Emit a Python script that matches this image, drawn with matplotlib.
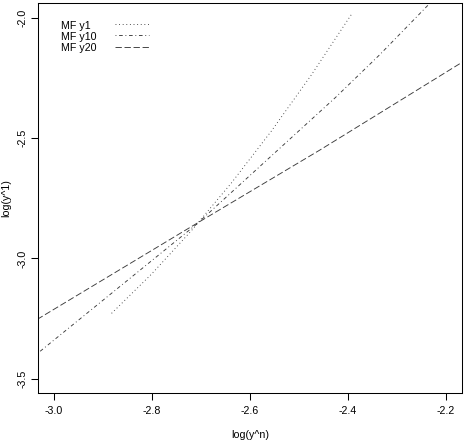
import matplotlib
matplotlib.use("Agg")
import matplotlib.pyplot as plt

# ---- data ----
x_y1 = [-2.8825, -2.8010, -2.7196, -2.6381, -2.5566, -2.4752, -2.3917]
y_y1 = [-3.2279, -3.0650, -2.8846, -2.6867, -2.4713, -2.2388, -1.9821]

x_y10 = [-3.050, -3.031, -2.711, -2.426, -2.335, -2.233, -2.200]
y_y10 = [-3.420, -3.390, -2.861, -2.332, -2.153, -1.940, -1.870]

x_y20 = [-3.050, -3.031, -2.711, -2.457, -2.168, -2.150]
y_y20 = [-3.272, -3.249, -2.857, -2.549, -2.186, -2.164]

labels = ["MF y1", "MF y10", "MF y20"]
xticks = [-3.0, -2.8, -2.6, -2.4, -2.2]
yticks = [-3.5, -3.0, -2.5, -2.0]

plt.rcParams['font.family'] = ['Liberation Sans', 'DejaVu Sans']
FS = 7.7

fig = plt.figure(figsize=(4.66, 4.44), dpi=100)
W, H = 466, 444
ax = fig.add_axes([38.3 / W, 1 - 393.3 / H, (461.7 - 38.3) / W, (393.3 - 3.3) / H])

styles = [(0, (1, 3)), (0, (1, 3, 4, 3)), (0, (7, 3))]
lw = 0.65
lc = '#3a3a3a'
ax.plot(x_y1, y_y1, color=lc, lw=lw, linestyle=styles[0])
ax.plot(x_y10, y_y10, color=lc, lw=lw, linestyle=styles[1])
ax.plot(x_y20, y_y20, color=lc, lw=lw, linestyle=styles[2])

ax.set_xlim(-3.032, -2.168)
ax.set_ylim(-3.56, -1.94)

ax.set_xticks(xticks)
ax.set_xticklabels([f"{v:.1f}" for v in xticks])
ax.set_yticks(yticks)
ax.set_yticklabels([f"{v:.1f}" for v in yticks], rotation=90, va='center')

ax.tick_params(axis='both', direction='out', length=5, width=0.75,
               labelsize=FS, color='black')
ax.tick_params(axis='x', pad=4)
ax.tick_params(axis='y', pad=2.5)

for s in ax.spines.values():
    s.set_linewidth(0.75)
    s.set_color('black')

ax.set_xlabel("log(y^n)", fontsize=FS)
ax.xaxis.set_label_coords(0.5, -(435 - 393.3) / 390, transform=ax.transAxes)
ax.xaxis.label.set_va('center')
ax.set_ylabel("log(y^1)", fontsize=FS)
ax.yaxis.set_label_coords(-(38.3 - 6.5) / 423.4, 0.5, transform=ax.transAxes)
ax.yaxis.label.set_va('center')

# legend (no box), text first then line sample
tx = (61 - 38.3) / 423.4
lx0 = (115 - 38.3) / 423.4
lx1 = (149 - 38.3) / 423.4
ys_txt = [25.7, 36.9, 48.3]
for lab, ls, yp in zip(labels, styles, ys_txt):
    yf = 1 - (yp - 3.3) / 390
    ax.text(tx, yf, lab, transform=ax.transAxes, fontsize=FS,
            ha='left', va='center')
    yl = 1 - (yp - 1.5 - 3.3) / 390
    ax.plot([lx0, lx1], [yl, yl], transform=ax.transAxes, color=lc,
            lw=lw, linestyle=ls, clip_on=False)

fig.savefig("out.png", dpi=100)
